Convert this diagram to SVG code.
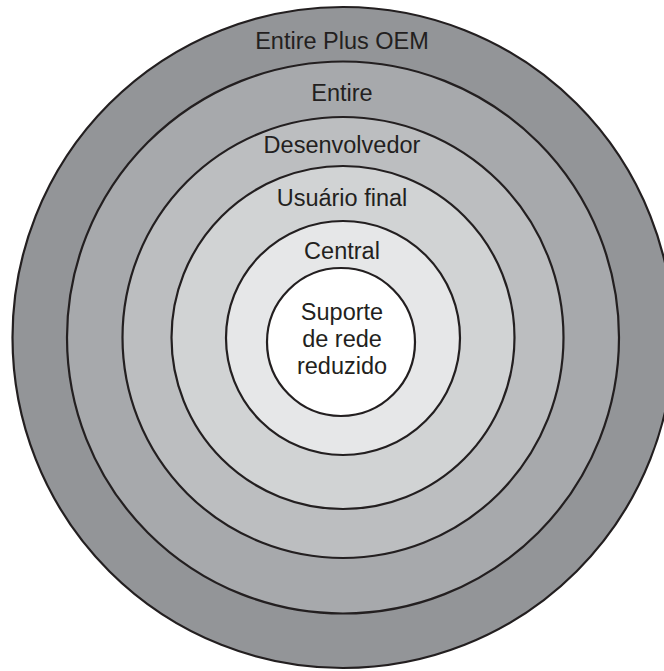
<svg xmlns="http://www.w3.org/2000/svg" width="664" height="671" viewBox="0 0 664 671">
<style>
.ring{stroke:#231F20;stroke-width:2.2}
.lbl{font-family:"Liberation Sans",Arial,sans-serif;font-size:23.5px;fill:#231F20;text-anchor:middle}
</style>
<rect width="664" height="671" fill="#FFFFFF"/>
<g id="entire-plus-oem"><circle class="ring" cx="343" cy="337.5" r="330.5" fill="#939598"/><text class="lbl" x="342" y="49">Entire Plus OEM</text></g>
<g id="entire"><circle class="ring" cx="343" cy="337.5" r="276" fill="#A7A9AC"/><text class="lbl" x="342" y="101">Entire</text></g>
<g id="desenvolvedor"><circle class="ring" cx="343" cy="337.5" r="220.5" fill="#BCBEC0"/><text class="lbl" x="342" y="153">Desenvolvedor</text></g>
<g id="usuario-final"><circle class="ring" cx="343" cy="337.5" r="171.5" fill="#D1D3D4"/><text class="lbl" x="342" y="206">Usuário final</text></g>
<g id="central"><circle class="ring" cx="343" cy="338" r="117" fill="#E6E7E8"/><text class="lbl" x="342" y="259">Central</text></g>
<g id="suporte-de-rede-reduzido"><circle class="ring" cx="341" cy="342" r="74" fill="#FFFFFF"/><text class="lbl" x="342" y="320">Suporte</text><text class="lbl" x="342" y="347">de rede</text><text class="lbl" x="342" y="374">reduzido</text></g>
<g id="connectors"/>
</svg>
